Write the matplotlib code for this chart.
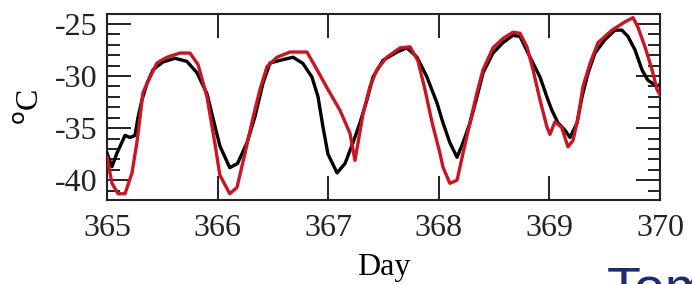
import numpy as np
import matplotlib
matplotlib.use('Agg')
import matplotlib.pyplot as plt
from matplotlib.ticker import MultipleLocator

# ── Traced data (day, temperature in °C) ─────────────────────
black_day = [365.000, 365.045, 365.090, 365.163, 365.208, 365.253, 365.280, 365.316,
             365.362, 365.416, 365.506, 365.615, 365.723, 365.814, 365.904, 365.976,
             366.020, 366.110, 366.180, 366.266, 366.338, 366.410, 366.474, 366.564,
             366.682, 366.772, 366.853, 366.908, 366.953, 366.998, 367.080, 367.152,
             367.224, 367.287, 367.350, 367.405, 367.495, 367.622, 367.712, 367.803,
             367.893, 367.984, 368.038, 368.100, 368.165, 368.219, 368.282, 368.345,
             368.400, 368.490, 368.580, 368.670, 368.734, 368.825, 368.915, 368.987,
             369.023, 369.078, 369.141, 369.186, 369.250, 369.295, 369.350, 369.412,
             369.503, 369.593, 369.656, 369.710, 369.774, 369.837, 369.890, 369.973,
             370.000]
black_temp = [-37.4, -38.7, -37.4, -35.7, -35.9, -35.7, -34.0, -32.3,
              -30.7, -29.4, -28.65, -28.3, -28.6, -29.7, -31.7, -34.8,
              -36.7, -38.8, -38.4, -36.4, -33.9, -30.7, -28.75, -28.5,
              -28.2, -28.8, -30.1, -32.0, -34.9, -37.5, -39.3, -38.4,
              -36.4, -34.5, -32.3, -30.1, -28.5, -27.7, -27.3, -28.2,
              -30.1, -32.6, -34.5, -36.4, -37.8, -36.4, -34.5, -32.0,
              -29.7, -27.8, -26.8, -26.1, -26.2, -28.2, -30.1, -32.3,
              -33.3, -34.5, -35.2, -35.9, -34.5, -32.0, -29.7, -27.8,
              -26.5, -25.6, -25.6, -26.2, -27.5, -29.4, -30.4, -31.0,
              -30.8]

red_day = [365.000, 365.045, 365.100, 365.163, 365.226, 365.270, 365.298, 365.325,
           365.389, 365.452, 365.542, 365.660, 365.750, 365.823, 365.904, 365.976,
           366.020, 366.110, 366.175, 366.248, 366.320, 366.383, 366.447, 366.537,
           366.655, 366.808, 366.899, 366.998, 367.107, 367.197, 367.242, 367.270,
           367.315, 367.378, 367.440, 367.530, 367.650, 367.740, 367.810, 367.875,
           367.940, 368.010, 368.038, 368.100, 368.165, 368.219, 368.282, 368.345,
           368.400, 368.490, 368.580, 368.670, 368.734, 368.797, 368.852, 368.915,
           368.978, 369.005, 369.050, 369.110, 369.168, 369.213, 369.259, 369.304,
           369.367, 369.440, 369.566, 369.684, 369.756, 369.800, 369.864, 369.928,
           369.973, 370.000]
red_temp = [-37.8, -40.3, -41.3, -41.3, -39.3, -36.4, -34.0, -31.6,
            -30.1, -28.75, -28.2, -27.8, -27.8, -28.9, -32.0, -36.5,
            -39.5, -41.3, -40.7, -37.4, -34.0, -31.3, -29.1, -28.2,
            -27.7, -27.7, -29.4, -31.3, -33.3, -35.5, -38.1, -36.4,
            -33.6, -31.0, -29.4, -28.2, -27.3, -27.2, -28.5, -31.3,
            -34.5, -37.4, -38.75, -40.3, -40.0, -37.4, -34.5, -31.6,
            -29.4, -27.3, -26.4, -25.8, -25.9, -27.2, -29.4, -32.3,
            -34.9, -35.6, -34.4, -34.9, -36.8, -36.2, -34.0, -31.0,
            -28.8, -26.8, -25.6, -24.8, -24.4, -25.3, -27.2, -29.4,
            -31.3, -31.8]

x_ticks = [365, 366, 367, 368, 369, 370]
y_ticks = [-40, -35, -30, -25]

plt.rcParams['font.family'] = ['Liberation Serif', 'DejaVu Serif']
plt.rcParams['axes.unicode_minus'] = False

fig = plt.figure(figsize=(6.92, 2.84), dpi=100)
ax = fig.add_axes([107/692, 1-200/284, 553/692, 186/284])

ax.plot(black_day, black_temp, color='black', lw=2.4, zorder=3)
ax.plot(red_day, red_temp, color='#CC1422', lw=2.4, zorder=4)

ax.set_xlim(365, 370)
ax.set_ylim(-41.9, -24.05)
ax.set_xticks(x_ticks)
ax.set_yticks(y_ticks)
ax.yaxis.set_minor_locator(MultipleLocator(1))
ax.tick_params(axis='both', which='both', direction='in', labelsize=23,
               top=True, right=True, colors='#222222')
ax.tick_params(axis='both', which='major', length=17, width=1.4)
ax.tick_params(axis='both', which='minor', length=9, width=1.4)
ax.tick_params(axis='x', pad=10)
ax.tick_params(axis='y', pad=7)
for sp in ax.spines.values():
    sp.set_linewidth(1.5)
    sp.set_color('#222222')

ax.set_xlabel('Day', fontsize=23, labelpad=7)
ax.set_ylabel('$^{\\rm o}$C', fontsize=23, labelpad=6)

fig.text(607/692, 1 - 306/284, 'Tom', color='#1C2A78', fontsize=40,
         family='Liberation Sans', va='baseline', ha='left')

fig.savefig('out.png', dpi=100)
